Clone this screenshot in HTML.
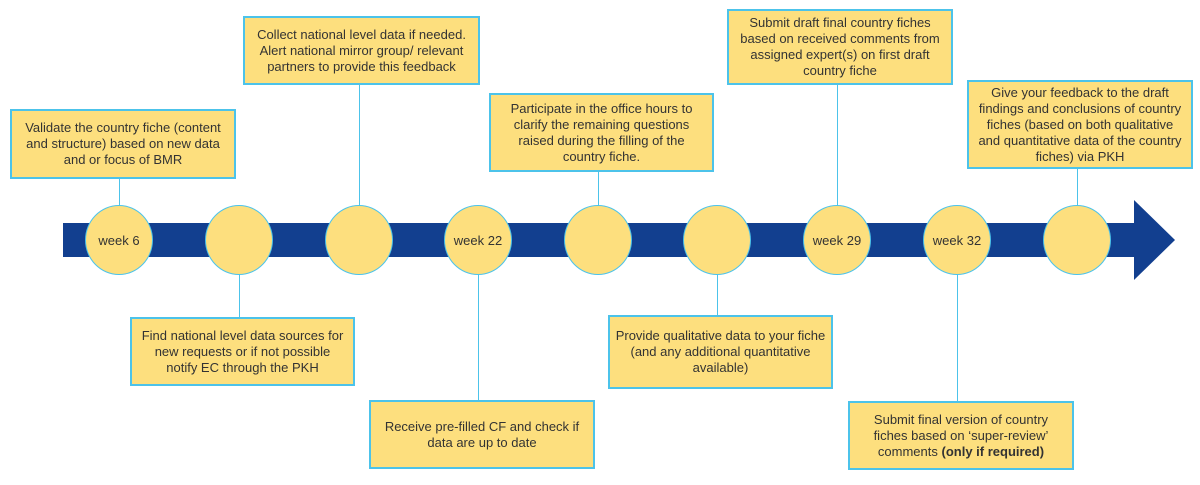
<!DOCTYPE html>
<html><head><meta charset="utf-8"><style>
body{margin:0;width:1200px;height:485px;background:#fff;position:relative;overflow:hidden;font-family:"Liberation Sans",sans-serif;}
.b{position:absolute;box-sizing:border-box;background:#fddf7e;border:2px solid #4cc3ea;display:flex;align-items:center;justify-content:center;text-align:center;font-size:13px;line-height:16px;color:#333;padding:0 2px;white-space:nowrap;}
.c{position:absolute;width:68px;height:70px;box-sizing:border-box;border-radius:50%;background:#fddf7e;border:1.5px solid #4cc3ea;display:flex;align-items:center;justify-content:center;font-size:13px;color:#333;top:205px;}
.l{position:absolute;width:1px;background:#4cc3ea;}
</style></head><body>
<div style="position:absolute;left:63px;top:223px;width:1073px;height:34px;background:#123f8f"></div>
<svg style="position:absolute;left:0;top:0" width="1200" height="485"><polygon points="1134,200 1175,240 1134,280" fill="#123f8f"/></svg>
<div class="l" style="left:119px;top:178px;height:28px"></div>
<div class="l" style="left:359px;top:84px;height:122px"></div>
<div class="l" style="left:598px;top:171px;height:35px"></div>
<div class="l" style="left:837px;top:84px;height:122px"></div>
<div class="l" style="left:1077px;top:168px;height:38px"></div>
<div class="l" style="left:239px;top:274px;height:44px"></div>
<div class="l" style="left:478px;top:274px;height:127px"></div>
<div class="l" style="left:717px;top:274px;height:42px"></div>
<div class="l" style="left:957px;top:274px;height:128px"></div>
<div class="c" style="left:85px">week 6</div>
<div class="c" style="left:205px"></div>
<div class="c" style="left:325px"></div>
<div class="c" style="left:444px">week 22</div>
<div class="c" style="left:564px"></div>
<div class="c" style="left:683px"></div>
<div class="c" style="left:803px">week 29</div>
<div class="c" style="left:923px">week 32</div>
<div class="c" style="left:1043px"></div>
<div class="b" style="left:10px;top:109px;width:226px;height:70px"><div>Validate the country fiche (content<br>and structure) based on new data<br>and or focus of BMR</div></div>
<div class="b" style="left:243px;top:16px;width:237px;height:69px"><div>Collect national level data if needed.<br>Alert national mirror group/ relevant<br>partners to provide this feedback</div></div>
<div class="b" style="left:489px;top:93px;width:225px;height:79px"><div>Participate in the office hours to<br>clarify the remaining questions<br>raised during the filling of the<br>country fiche.</div></div>
<div class="b" style="left:727px;top:9px;width:226px;height:76px"><div>Submit draft final country fiches<br>based on received comments from<br>assigned expert(s) on first draft<br>country fiche</div></div>
<div class="b" style="left:967px;top:80px;width:226px;height:89px"><div>Give your feedback to the draft<br>findings and conclusions of country<br>fiches (based on both qualitative<br>and quantitative data of the country<br>fiches) via PKH</div></div>
<div class="b" style="left:130px;top:317px;width:225px;height:69px"><div>Find national level data sources for<br>new requests or if not possible<br>notify EC through the PKH</div></div>
<div class="b" style="left:369px;top:400px;width:226px;height:69px"><div>Receive pre-filled CF and check if<br>data are up to date</div></div>
<div class="b" style="left:608px;top:315px;width:225px;height:74px"><div>Provide qualitative data to your fiche<br>(and any additional quantitative<br>available)</div></div>
<div class="b" style="left:848px;top:401px;width:226px;height:69px"><div>Submit final version of country<br>fiches based on ‘super-review’<br>comments <b>(only if required)</b></div></div>
</body></html>
